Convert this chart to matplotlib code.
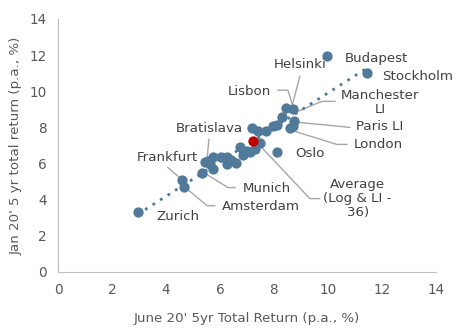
import numpy as np
import matplotlib
matplotlib.use("Agg")
import matplotlib.pyplot as plt

# June 20' 5yr total return (x) vs Jan 20' 5yr total return (y), p.a. %
june_ret = [2.95, 4.65, 4.60, 5.35, 5.45, 5.55, 5.65, 5.75, 5.75, 6.05,
            6.25, 6.25, 6.40, 6.60, 6.75, 6.90, 6.85, 7.00, 7.10, 7.30,
            7.50, 8.10, 7.20, 7.40, 7.70, 7.95, 8.10, 8.30, 8.45, 8.70,
            8.75, 8.60, 8.70, 9.95, 11.45]
jan_ret = [3.30, 4.70, 5.10, 5.50, 6.10, 6.15, 5.95, 6.35, 5.70, 6.35,
           6.35, 5.95, 6.20, 6.05, 6.90, 6.65, 6.50, 6.70, 6.65, 6.80,
           7.15, 6.65, 7.95, 7.80, 7.80, 8.10, 8.15, 8.60, 9.05, 9.00,
           8.35, 7.95, 8.10, 11.95, 11.00]
avg_june = 7.22
avg_jan = 7.25

blue = "#51799A"
red = "#C00000"
grey_txt = "#404040"
grey_line = "#A6A6A6"

# label text, text position, alignment, leader polyline (data coords)
labels = [
    ("Helsinki", (8.96, 11.5), "center", [(8.96, 10.83), (8.67, 9.17)]),
    ("Budapest", (10.63, 11.8), "left", None),
    ("Stockholm", (12.0, 10.83), "left", None),
    ("Lisbon", (7.1, 10.0), "center", [(8.15, 10.06), (8.52, 10.06), (8.7, 9.17)]),
    ("Manchester\nLI", (11.93, 9.4), "center", [(10.26, 9.44), (9.78, 9.44), (8.78, 8.83)]),
    ("Paris LI", (11.9, 8.05), "center", [(10.81, 8.0), (10.44, 8.06), (8.89, 8.28)]),
    ("London", (11.85, 7.05), "center", [(10.7, 7.06), (10.33, 7.06), (8.78, 7.78)]),
    ("Oslo", (9.33, 6.55), "center", None),
    ("Bratislava", (5.6, 7.94), "center", [(5.59, 7.33), (5.52, 6.22)]),
    ("Frankfurt", (4.07, 6.33), "center", [(4.07, 5.78), (4.59, 5.11)]),
    ("Munich", (7.74, 4.6), "center", [(6.56, 4.67), (6.3, 4.67), (5.52, 5.39)]),
    ("Amsterdam", (7.5, 3.6), "center", [(5.81, 3.67), (5.52, 3.67), (4.81, 4.56)]),
    ("Zurich", (4.44, 3.06), "center", None),
    ("Average\n(Log & LI -\n36)", (11.1, 4.06), "center",
     [(9.7, 4.06), (9.33, 4.06), (7.37, 7.17)]),
]

plt.rcParams["font.family"] = ["DejaVu Sans"]

fig = plt.figure(figsize=(4.62, 3.29), dpi=100)
ax = fig.add_axes([0.1255, 0.1733, 0.818, 0.769])

x = np.array(june_ret)
y = np.array(jan_ret)

# linear trend
k, b = np.polyfit(x, y, 1)
xt = np.array([x.min(), x.max()])
ax.plot(xt, k * xt + b, linestyle=(0, (1, 2.2)), color=blue, lw=2, zorder=2)

for txt, pos, ha, leader in labels:
    if leader:
        lx, ly = zip(*leader)
        ax.plot(lx, ly, color=grey_line, lw=1, zorder=1)
    ax.text(pos[0], pos[1], txt, ha=ha, va="center", fontsize=9.6,
            color=grey_txt, linespacing=1.1, zorder=4)

ax.scatter(x, y, s=55, color=blue, zorder=3, linewidths=0)
ax.scatter([avg_june], [avg_jan], s=55, color=red, zorder=3, linewidths=0)

ax.set_xlim(0, 14)
ax.set_ylim(0, 14)
ax.set_xticks(range(0, 15, 2))
ax.set_yticks(range(0, 15, 2))
ax.tick_params(length=0, labelsize=9.8, labelcolor="#595959", pad=8)

for side in ("top", "right"):
    ax.spines[side].set_visible(False)
for side in ("left", "bottom"):
    ax.spines[side].set_color("#BFBFBF")

ax.set_xlabel("June 20' 5yr Total Return (p.a., %)", fontsize=9.6,
              color="#595959", labelpad=11)
ax.set_ylabel("Jan 20' 5 yr total return (p.a., %)", fontsize=9.6,
              color="#595959", labelpad=5)

fig.savefig("out.png", dpi=100)
